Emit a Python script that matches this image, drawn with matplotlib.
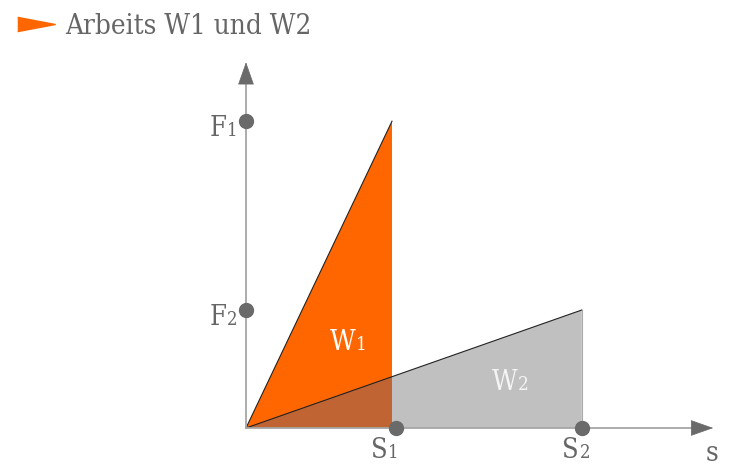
import matplotlib
matplotlib.use("Agg")
import matplotlib.pyplot as plt
import numpy as np

# data (s in units of S1, F in units of F2)
s_points = [1.0, 2.3]          # S1, S2
f_points = [2.6, 1.0]          # F1, F2
s_labels = ["S", "S"]
s_subs = ["1", "2"]
f_labels = ["F", "F"]
f_subs = ["1", "2"]
w_labels = ["W", "W"]
w_subs = ["1", "2"]
title = "Arbeits W1 und W2"

ORANGE = "#ff6600"
GRAY = "#c0c0c0"
OVERLAP = "#bf6432"
TEXT = "#666666"
AXIS = "#a6a6a6"
DOT = "#6a6a6a"
FONT = "DejaVu Serif"
STRETCH = "condensed"

W, H = 750, 477
fig = plt.figure(figsize=(W / 100, H / 100), dpi=100)
ax = fig.add_axes([0, 0, 1, 1])
ox, oy = 246, 48          # origin in pixels from left / bottom
ux, uy = 146, 118         # pixels per unit
ax.set_xlim(-ox / ux, (W - ox) / ux)
ax.set_ylim(-oy / uy, (H - oy) / uy)
ax.axis("off")

s1, s2 = s_points
F1, F2 = f_points

# triangles
ax.fill([0, s2, s2], [0, F2, 0], color=GRAY, lw=0, zorder=2)
ax.fill([0, s1, s1], [0, F1, 0], color=ORANGE, lw=0, zorder=3)
# overlap region
ax.fill([0, s1, s1], [0, F2 * s1 / s2, 0], color=OVERLAP, lw=0, zorder=4)
# hypotenuses
ax.plot([0, s1], [0, F1], color="#222222", lw=0.8, zorder=5)
ax.plot([0, s2], [0, F2], color="#222222", lw=0.8, zorder=5)
ax.plot([s2, s2], [0, F2], color="#aaaaaa", lw=0.8, zorder=5)

# axes
x_end, y_end = 3.2, 3.1
ax.plot([0, x_end - 0.1], [0, 0], color=AXIS, lw=1.3, zorder=6)
ax.plot([0, 0], [0, y_end - 0.1], color=AXIS, lw=1.3, zorder=6)
head = "-|>,head_length=1.5,head_width=0.53"
ax.annotate("", xy=(x_end, 0), xytext=(x_end - 0.14, 0),
            arrowprops=dict(arrowstyle=head, color=DOT, lw=0.5, shrinkA=0, shrinkB=0),
            zorder=7)
ax.annotate("", xy=(0, y_end), xytext=(0, y_end - 0.18),
            arrowprops=dict(arrowstyle=head, color=DOT, lw=0.5, shrinkA=0, shrinkB=0),
            zorder=7)

# dots
ax.plot([s1 + 0.03, s2], [0, 0], "o", color=DOT, ms=10, zorder=8)
ax.plot([0, 0], [F1, F2], "o", color=DOT, ms=10, zorder=8)

def sublabel(x, y, main, sub, size, color, dx=0, dy=0):
    ax.annotate(main, xy=(x, y), xytext=(dx, dy), textcoords="offset points",
                fontsize=size, color=color, family=FONT, fontstretch=STRETCH,
                ha="right", va="baseline", zorder=9)
    ax.annotate(sub, xy=(x, y), xytext=(dx + 0.5, dy), textcoords="offset points",
                fontsize=size * 0.68, color=color, family=FONT, fontstretch=STRETCH,
                ha="left", va="baseline", zorder=9)

# S labels
for sx, lab, sub in zip([s1 - 0.03, s2 - 0.02], s_labels, s_subs):
    sublabel(sx, 0, lab, sub, 19.5, TEXT, dx=0, dy=-21)
# F labels
for fy, lab, sub in zip(f_points, f_labels, f_subs):
    sublabel(0, fy, lab, sub, 19.5, TEXT, dx=-14, dy=-10)
# W labels
sublabel(0.75, 0.72, w_labels[0], w_subs[0], 20, "white", dx=0, dy=-4)
sublabel(1.86, 0.38, w_labels[1], w_subs[1], 20, "#f4f4f4", dx=0, dy=-4)
# s label
ax.text(3.19, -0.27, "s", fontsize=20, color=TEXT, family=FONT, fontstretch=STRETCH,
        ha="center", va="baseline")

# title
fig.text(65 / W, 1 - 34 / H, title, fontsize=20, color=TEXT, family=FONT,
         fontstretch=STRETCH, va="baseline", ha="left")
tri = [(-1, -0.38), (1, 0), (-1, 0.38)]
fig.add_artist(plt.Line2D([36 / W], [1 - 25 / H], marker=tri, ms=27, color=ORANGE,
                          mec=ORANGE, lw=0, transform=fig.transFigure))

fig.savefig("out.png", dpi=100)
